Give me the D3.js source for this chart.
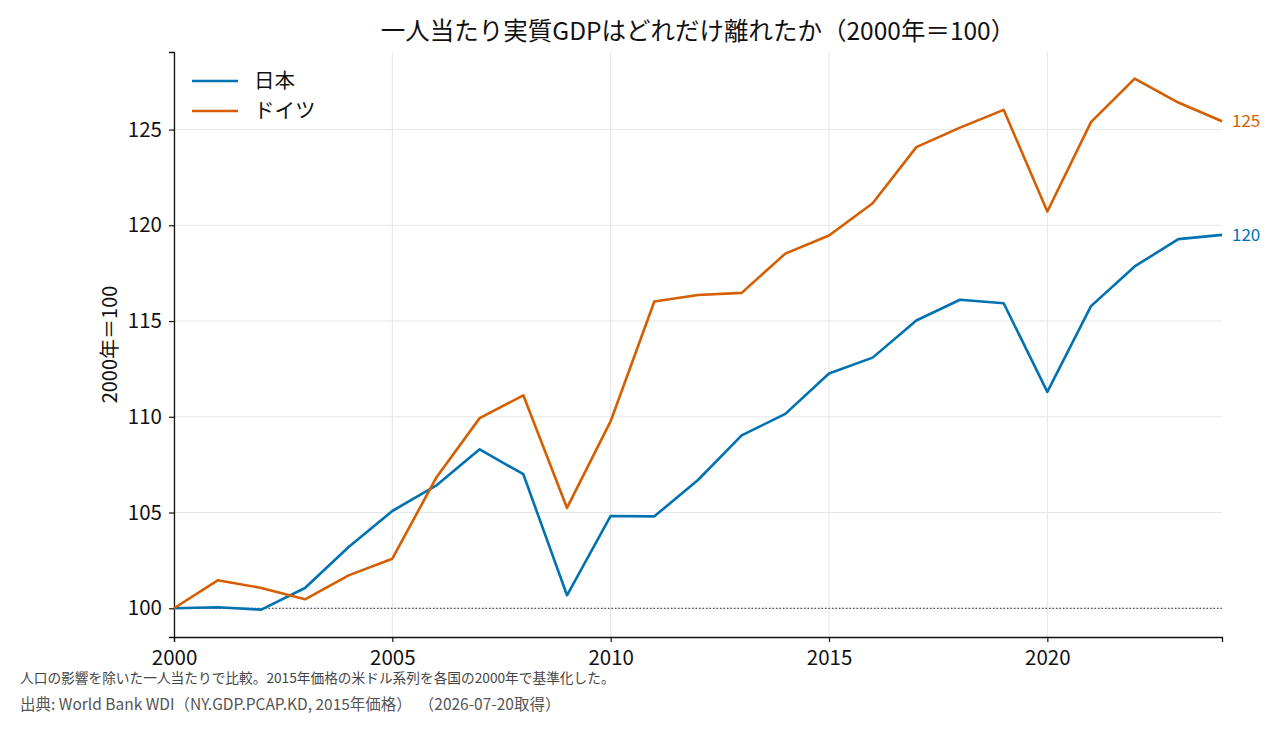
<!DOCTYPE html>
<html>
<head>
<meta charset="UTF-8"/>
<script src="https://cdn.jsdelivr.net/npm/d3@7/dist/d3.min.js"></script>
<style>
  body { margin: 0; background: #fff; }
  text { font-family: "Noto Sans CJK JP", "Noto Sans", sans-serif; }
</style>
</head>
<body>
<script>
// データ（2000年＝100）
const years = d3.range(2000, 2025);
const japan = [100, 100.05, 99.93, 101.06, 103.2, 105.08, 106.4, 108.3, 107.0, 100.68,
               104.82, 104.8, 106.7, 109.03, 110.15, 112.26, 113.09, 115.03, 116.11, 115.93,
               111.3, 115.78, 117.85, 119.28, 119.5];
const germany = [100, 101.46, 101.06, 100.47, 101.72, 102.59, 106.8, 109.93, 111.12, 105.24,
                 109.77, 116.02, 116.36, 116.47, 118.52, 119.47, 121.15, 124.08, 125.1, 126.03,
                 120.72, 125.39, 127.66, 126.41, 125.43];
const seriesNames = ["日本", "ドイツ"];
const seriesColors = ["#0072B2", "#D55E00"];
const xTicks = [2000, 2005, 2010, 2015, 2020];
const yTicks = [100, 105, 110, 115, 120, 125];

const width = 1280, height = 732;
const margin = {top: 52, right: 58, bottom: 95, left: 174};

const svg = d3.select("body").append("svg")
  .attr("width", width)
  .attr("height", height);

const x = d3.scaleLinear().domain([2000, 2024]).range([margin.left, width - margin.right]);
const y = d3.scaleLinear().domain([98.5, 129.05]).range([height - margin.bottom, margin.top]);

// グリッド
svg.append("g").selectAll("line").data(xTicks).join("line")
  .attr("x1", d => x(d)).attr("x2", d => x(d))
  .attr("y1", y.range()[1]).attr("y2", y.range()[0])
  .attr("stroke", "#e6e6e6").attr("stroke-width", 1);
svg.append("g").selectAll("line").data(yTicks).join("line")
  .attr("x1", x.range()[0]).attr("x2", x.range()[1])
  .attr("y1", d => y(d)).attr("y2", d => y(d))
  .attr("stroke", "#e6e6e6").attr("stroke-width", 1);

// 基準線 100
svg.append("line")
  .attr("x1", x.range()[0]).attr("x2", x.range()[1])
  .attr("y1", y(100)).attr("y2", y(100))
  .attr("stroke", "#555").attr("stroke-width", 1.2)
  .attr("stroke-dasharray", "1.5,2");

// 軸
const xAxis = svg.append("g")
  .attr("transform", "translate(0," + (height - margin.bottom) + ")")
  .call(d3.axisBottom(x).tickValues(xTicks).tickFormat(d3.format("d")).tickSizeOuter(0).tickSize(5).tickPadding(8));
const yAxis = svg.append("g")
  .attr("transform", "translate(" + margin.left + ",0)")
  .call(d3.axisLeft(y).tickValues(yTicks).tickSizeOuter(0).tickSize(5).tickPadding(7));
[xAxis, yAxis].forEach(a => {
  a.selectAll("text").attr("font-size", 20.5).attr("fill", "#111")
    .style("font-family", '"Noto Sans CJK JP", sans-serif');
  a.select(".domain").attr("stroke", "#111").attr("stroke-width", 1.3);
  a.selectAll(".tick line").attr("stroke", "#111").attr("stroke-width", 1.2);
});

// 線
const line = d3.line().x((d, i) => x(years[i])).y(d => y(d));
const data = [japan, germany];
svg.append("g").selectAll("path").data(data).join("path")
  .attr("d", line)
  .attr("fill", "none")
  .attr("stroke", (d, i) => seriesColors[i])
  .attr("stroke-width", 2.6)
  .attr("stroke-linejoin", "round");

// 末尾ラベル
svg.append("g").selectAll("text").data(data).join("text")
  .attr("x", x(2024) + 10)
  .attr("y", d => y(d[d.length - 1]))
  .attr("dy", "0.35em")
  .attr("font-size", 17)
  .attr("fill", (d, i) => seriesColors[i])
  .text(d => d3.format(".0f")(d[d.length - 1]));

// 凡例
const legend = svg.append("g").selectAll("g").data(seriesNames).join("g")
  .attr("transform", (d, i) => "translate(192," + (81 + i * 30) + ")");
legend.append("line")
  .attr("x1", 0).attr("x2", 46)
  .attr("stroke", (d, i) => seriesColors[i]).attr("stroke-width", 2.6);
legend.append("text")
  .attr("x", 62).attr("dy", "0.35em")
  .attr("font-size", 20.5).attr("fill", "#111")
  .text(d => d);

// タイトル・軸ラベル
svg.append("text")
  .attr("x", (x.range()[0] + x.range()[1]) / 2).attr("y", 40)
  .attr("text-anchor", "middle").attr("font-size", 24.5).attr("fill", "#111")
  .text("一人当たり実質GDPはどれだけ離れたか（2000年＝100）");
svg.append("text")
  .attr("transform", "translate(117," + ((y.range()[0] + y.range()[1]) / 2) + ") rotate(-90)")
  .attr("text-anchor", "middle").attr("font-size", 20).attr("fill", "#111")
  .text("2000年＝100");

// 注記
svg.append("text")
  .attr("x", 20).attr("y", 683)
  .attr("font-size", 13.7).attr("fill", "#444")
  .text("人口の影響を除いた一人当たりで比較。2015年価格の米ドル系列を各国の2000年で基準化した。");
svg.append("text")
  .attr("x", 20).attr("y", 710)
  .attr("font-size", 15.5).attr("fill", "#555")
  .attr("xml:space", "preserve")
  .style("white-space", "pre")
  .text("出典: World Bank WDI（NY.GDP.PCAP.KD, 2015年価格）  （2026-07-20取得）");
</script>
</body>
</html>
